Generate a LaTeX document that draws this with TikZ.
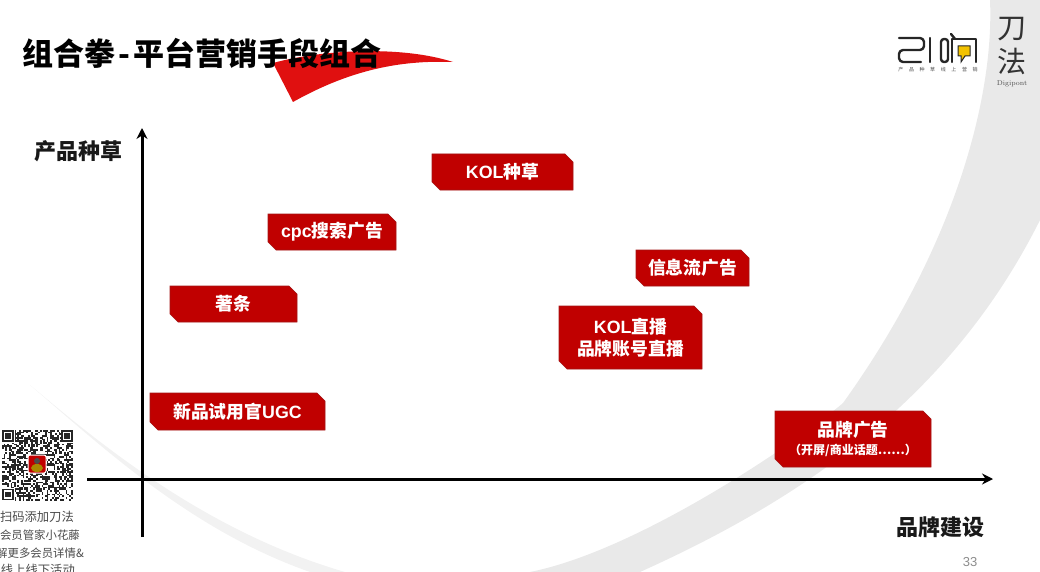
\documentclass[tikz,border=0pt]{standalone}
\usepackage{fontspec}
\usepackage{xcolor}
\usetikzlibrary{arrows.meta, positioning, shapes.misc}
\setmainfont{Liberation Sans}
\newfontfamily\cjk{Noto Sans CJK SC}
\newcommand{\lat}[1]{{\rmfamily #1}}
\definecolor{Slide_Red}{HTML}{C00000}
\definecolor{Slide_RedDark}{HTML}{A31616}
\definecolor{Slide_Flag}{HTML}{E01010}
\definecolor{Slide_Gray}{HTML}{E9E9E9}
\definecolor{Slide_Text}{HTML}{4A4A4A}
\definecolor{Slide_Yellow}{HTML}{F2C200}
\tikzset{
  tactic/.style={chamfered rectangle, chamfered rectangle corners={north east, south west},
    chamfered rectangle xsep=4pt, chamfered rectangle ysep=4pt, inner sep=0pt,
    fill=Slide_Red, draw=Slide_RedDark, line width=0.6pt, text=white, align=center,
    font=\cjk\bfseries\fontsize{17.8}{22}\selectfont},
  axislabel/.style={font=\cjk\bfseries\fontsize{22}{26}\selectfont, text=black!90},
  axisline/.style={line width=3pt, -{Stealth[length=11pt, width=11pt]}},
  qrnote/.style={font=\cjk\fontsize{12.3}{14}\selectfont, text=Slide_Text, inner sep=0pt},
  qrnotesmall/.style={qrnote, font=\cjk\fontsize{11.4}{14}\selectfont},
  logoline/.style={line width=2.4pt, line cap=round, line join=round, black!85}
}
\begin{document}
\begin{tikzpicture}[x=1pt, y=-1pt]
\useasboundingbox (0,0) rectangle (1040,572);
% --- Background swoosh ---
\fill[Slide_Gray] (990,0) .. controls (994,90) and (960,240) .. (843,403)
  .. controls (800,440) and (640,550) .. (530,572) -- (640,572)
  .. controls (800,500) and (950,400) .. (1040,220) -- (1040,0) -- cycle;
\fill[Slide_Gray!60] (30,385) .. controls (90,435) and (200,530) .. (345,572) -- (310,572)
  .. controls (190,530) and (100,445) .. (30,385) -- cycle;
% --- Title ---
\fill[Slide_Flag] (273,63) .. controls (320,50) and (400,45) .. (453,62)
  .. controls (400,60) and (350,70) .. (293,102) -- cycle;
\node[anchor=west, inner sep=0pt, font=\cjk\bfseries\fontsize{31}{34}\selectfont] (title) at (22,53)
  {组合拳\hspace{3pt}-\hspace{3pt}平台营销手段组合};
% --- Logos ---
\draw[logoline] (899,38) -- (920,38) to[out=0, in=90] (924,42) -- (924,46) to[out=-90, in=0] (920,50)
  -- (903,50) to[out=180, in=90] (899,54) -- (899,58) to[out=-90, in=180] (903,62) -- (921,62);
\draw[logoline] (930,38) -- (930,62);
\draw[logoline, rounded corners=3pt] (941,39) rectangle (948,62);
\draw[logoline] (951,34) -- (955,39);
\draw[logoline] (952,62) -- (952,39) -- (976,39) -- (976,62);
\fill[Slide_Yellow, draw=black!85, line width=1pt] (958,46) -- (970,46) -- (970,56) -- (965,56) -- (961,62) -- (961,56) -- (958,56) -- cycle;
\node[font=\cjk\fontsize{5}{6}\selectfont, text=black!70, inner sep=0pt] (slogan) at (938,70)
  {产\hspace{5.6pt}品\hspace{5.6pt}种\hspace{5.6pt}草\hspace{5.6pt}线\hspace{5.6pt}上\hspace{5.6pt}营\hspace{5.6pt}销};
\node[font=\cjk\fontsize{29}{30}\selectfont, text=black!80, inner sep=0pt] (dao) at (1012,29) {刀};
\node[font=\cjk\fontsize{29}{30}\selectfont, text=black!80, inner sep=0pt] (fa) at (1012,61) {法};
\node[font=\fontfamily{lmr}\selectfont\fontsize{7}{8}\selectfont, text=black!70, inner sep=0pt] (digi) at (1012,84) {Digipont};
% --- Axes ---
\coordinate (yfoot) at (142,537);
\coordinate (ytip) at (142,128);
\coordinate (xfoot) at (87,479);
\coordinate (xtip) at (993,479);
\draw[axisline] (yfoot) -- (ytip);
\draw[axisline] (xfoot) -- (xtip);
\node[axislabel] (ylabel) at (78,151) {产品种草};
\node[axislabel] (xlabel) at (940,527) {品牌建设};
% --- Tactics ---
\node[tactic, minimum width=141pt, minimum height=36pt] (kolseed) at (502.5,172) {\lat{KOL}种草};
\node[tactic, minimum width=128pt, minimum height=36pt] (cpc) at (332,232) {\lat{cpc}搜索广告};
\node[tactic, minimum width=127pt, minimum height=36pt] (zhutiao) at (233.5,304) {著条};
\node[tactic, minimum width=113pt, minimum height=36pt] (feed) at (692.5,268) {信息流广告};
\node[tactic, minimum width=143pt, minimum height=63pt] (live) at (630.5,337.5) {\lat{KOL}直播\\品牌账号直播};
\node[tactic, minimum width=175pt, minimum height=37pt] (trial) at (237.5,411.5) {新品试用官\lat{UGC}};
\node[tactic, minimum width=156pt, minimum height=56pt] (brandad) at (853,439)
  {品牌广告\\[-4pt]{\fontsize{12}{16}\selectfont（开屏/商业话题……）}};
% --- QR code ---
\pgfmathsetseed{33}
\fill[white] (2,430) rectangle (73,500);
\foreach \i in {0,...,40} {
  \foreach \j in {0,...,40} {
    \pgfmathrandominteger{\qrbit}{0}{1}
    \ifnum\qrbit=1
      \fill[black!85] (2+\i*1.72,430+\j*1.72) rectangle +(1.72,1.72);
    \fi
  }
}
\foreach \x/\y in {2/430, 61/430, 2/488.5} {
  \fill[white] (\x-0.5,\y-0.5) rectangle +(13.5,13.5);
  \draw[black!85, line width=1.7pt] (\x+0.9,\y+0.9) rectangle +(10.2,10.2);
  \fill[black!85] (\x+3.4,\y+3.4) rectangle +(5.2,5.2);
}
\fill[Slide_Red, draw=white, line width=1pt, rounded corners=2pt] (28,455) rectangle (46,473);
\fill[Slide_Yellow!70!black] (37,468) ellipse (6pt and 4pt);
\fill[black!70] (37,461) circle (3pt);
% --- QR note ---
\node[qrnote, anchor=east] (note1) at (74,517) {扫码添加刀法};
\node[qrnotesmall, anchor=east] (note2) at (80,535) {会员管家小花藤};
\node[qrnotesmall, anchor=east] (note3) at (84,553) {解更多会员详情\&};
\node[qrnote, anchor=east] (note4) at (75,570) {线上线下活动};
% --- Page number ---
\node[font=\fontsize{13}{15}\selectfont, text=black!45, inner sep=0pt] (page) at (970,562) {33};
\end{tikzpicture}
\end{document}
